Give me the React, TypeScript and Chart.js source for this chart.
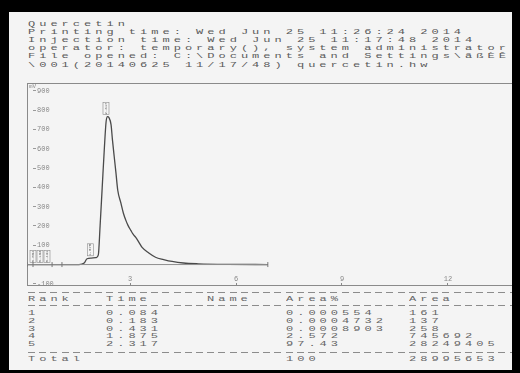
import React, { useEffect, useRef } from 'react';
import { Chart, registerables } from 'chart.js';

Chart.register(...registerables);

// ---- header text ----
const headerLines = [
  'Quercetin',
  'Printing time: Wed Jun 25 11:26:24 2014',
  'Injection time: Wed Jun 25 11:17:48 2014',
  'operator: temporary(), system administrator',
  'File opened: C:\\Documents and Settings\\ãßÈÊ',
  '\\001(20140625 11/17/48) quercetin.hw',
];

// ---- chromatogram trace (min, mV) ----
const timeMin = [0.08, 0.5, 1.0, 1.55, 1.70, 1.78, 1.90, 2.04, 2.10, 2.15, 2.21, 2.27, 2.32, 2.36, 2.40, 2.46, 2.50, 2.55, 2.60, 2.65, 2.74, 2.81, 2.88, 2.94, 3.02, 3.09, 3.16, 3.25, 3.34, 3.53, 3.72, 3.95, 4.19, 4.51, 4.93, 5.78, 6.90];
const signalMV = [0, 0, 0, 0, 8, 30, 33, 36, 50, 200, 400, 600, 740, 767, 762, 725, 646, 559, 474, 385, 318, 266, 229, 203, 177, 156, 141, 115, 89, 60, 38, 26, 16, 8, 4, 1, 0];

// integration baseline marks
const baselineTimes = [0.08, 0.25, 0.79, 1.07, 6.90];
const baselineMV = [0, 0, 0, 0, 0];

// ---- axes ----
const yTickValues = [-100, 100, 200, 300, 400, 500, 600, 700, 800, 900];
const xTickValues = [3, 6, 9, 12];
const yUnit = 'mV';

// ---- peak table ----
const tableHeaders = ['Rank', 'Time', 'Name', 'Area%', 'Area'];
const ranks = ['1', '2', '3', '4', '5'];
const peakTimes = [0.084, 0.183, 0.431, 1.875, 2.317];
const peakNames = ['', '', '', '', ''];
const areaPct = ['0.000554', '0.0004732', '0.0008903', '2.572', '97.43'];
const areas = ['161', '137', '258', '745692', '28249405'];
const totalLabel = 'Total';
const totalAreaPct = '100';
const totalArea = '28995653';
const peakApexMV = [0, 0, 0, 35, 767];

// layout helpers
const CHAR = 11.2;
const TEXT_X = 28;
const colChars = [0, 7, 16, 23, 34];
const PAPER_X = 9;
const PAPER_Y = 12;

function Mono({ x, y, text, color = '#555' }: { x: number; y: number; text: string; color?: string }) {
  return (
    <div
      style={{
        position: 'absolute',
        left: x - PAPER_X,
        top: y - PAPER_Y - 4,
        height: 8,
        lineHeight: '8px',
        whiteSpace: 'pre',
        fontFamily: '"Liberation Mono", "DejaVu Sans Mono", monospace',
        fontSize: 8,
        letterSpacing: '2.67px',
        transform: 'scaleX(1.5)',
        transformOrigin: 'left center',
        color,
      }}
    >
      {text}
    </div>
  );
}

function Dashes({ y }: { y: number }) {
  return (
    <div
      style={{
        position: 'absolute',
        left: TEXT_X - PAPER_X,
        top: y - PAPER_Y,
        width: 512 - TEXT_X,
        height: 1,
        background: 'repeating-linear-gradient(90deg, #8c8c8c 0 7px, transparent 7px 11.2px)',
      }}
    />
  );
}

const framePlugin = {
  id: 'frame',
  afterDraw(chart: any) {
    const { ctx, chartArea } = chart;
    ctx.save();
    ctx.strokeStyle = '#8a8a8a';
    ctx.lineWidth = 1;
    ctx.beginPath();
    ctx.moveTo(chartArea.left, Math.round(chartArea.top) + 0.5);
    ctx.lineTo(chartArea.right, Math.round(chartArea.top) + 0.5);
    ctx.stroke();
    ctx.fillStyle = '#888';
    ctx.font = '6px "Liberation Mono", monospace';
    ctx.textBaseline = 'middle';
    ctx.textAlign = 'left';
    ctx.fillText(yUnit, chartArea.left + 2, chartArea.top + 3.5);
    ctx.restore();
  },
};

const peakLabelPlugin = {
  id: 'peakLabels',
  afterDatasetsDraw(chart: any) {
    const { ctx, chartArea } = chart;
    const xs = chart.scales.x;
    const ys = chart.scales.y;
    let prevRight = -Infinity;
    ctx.save();
    ctx.strokeStyle = '#8a8a8a';
    ctx.lineWidth = 0.6;
    ctx.fillStyle = '#666';
    ctx.font = '4px "Liberation Mono", monospace';
    ctx.textAlign = 'center';
    ctx.textBaseline = 'middle';
    peakTimes.forEach((t, i) => {
      const w = 6;
      const h = 12;
      const cx = xs.getPixelForValue(t);
      const left = Math.max(cx - w / 2, prevRight + 1, chartArea.left + 3);
      prevRight = left + w;
      const bottom = ys.getPixelForValue(peakApexMV[i]) - 2;
      ctx.strokeRect(left, bottom - h, w, h);
      ctx.save();
      ctx.translate(left + w / 2, bottom - h / 2);
      ctx.rotate(-Math.PI / 2);
      ctx.fillText(t.toFixed(3), 0, 0);
      ctx.restore();
    });
    ctx.restore();
  },
};

export default function App() {
  const canvasRef = useRef<HTMLCanvasElement | null>(null);

  useEffect(() => {
    if (!canvasRef.current) return;
    const tickFont = { family: '"Liberation Mono", monospace', size: 7 };
    const zeroPad = (s: any) => {
      s.paddingTop = 0;
      s.paddingBottom = 0;
      s.paddingLeft = 0;
      s.paddingRight = 0;
    };
    const chart = new Chart(canvasRef.current, {
      type: 'line',
      data: {
        datasets: [
          {
            data: baselineTimes.map((t, i) => ({ x: t, y: baselineMV[i] })),
            borderColor: '#8e8e8e',
            borderWidth: 1,
            pointStyle: 'line',
            pointRotation: 90,
            pointRadius: 2.5,
            pointBorderColor: '#777',
            pointBorderWidth: 1,
            tension: 0,
          },
          {
            data: timeMin.map((t, i) => ({ x: t, y: signalMV[i] })),
            borderColor: '#4a4a4a',
            borderWidth: 1.3,
            pointRadius: 0,
            cubicInterpolationMode: 'monotone',
          },
        ],
      } as any,
      options: {
        responsive: false,
        animation: false,
        layout: { padding: { left: 7, top: 6, right: 0, bottom: 5 } },
        plugins: { legend: { display: false }, tooltip: { enabled: false } },
        scales: {
          x: {
            type: 'linear',
            min: 0.08,
            max: 13.9,
            afterFit: (s: any) => {
              s.height = 0;
              zeroPad(s);
            },
            afterBuildTicks: (s: any) => {
              s.ticks = xTickValues.map((v) => ({ value: v }));
            },
            grid: { drawOnChartArea: false, drawTicks: true, tickLength: -2, tickColor: '#888', tickWidth: 1 },
            border: { display: true, color: '#8a8a8a', width: 1 },
            ticks: { mirror: true, padding: 1.5, font: tickFont, color: '#888', maxRotation: 0, autoSkip: false },
          },
          y: {
            type: 'linear',
            min: -106,
            max: 941,
            afterFit: (s: any) => {
              s.width = 0;
              zeroPad(s);
            },
            afterBuildTicks: (s: any) => {
              s.ticks = yTickValues.map((v) => ({ value: v }));
            },
            grid: { drawOnChartArea: false, drawTicks: true, tickLength: -9, tickBorderDash: [3, 20], tickColor: '#999', tickWidth: 1 },
            border: { display: true, color: '#8a8a8a', width: 1 },
            ticks: { mirror: true, padding: 10, font: tickFont, color: '#888', autoSkip: false },
          },
        },
      } as any,
      plugins: [framePlugin, peakLabelPlugin],
    });
    return () => chart.destroy();
  }, []);

  const headerY0 = 24;
  const headerStep = 8.1;
  const rowYs = [313, 321, 328.5, 336, 344];

  return (
    <div style={{ position: 'fixed', left: 0, top: 0, width: 520, height: 373, background: '#000', overflow: 'hidden' }}>
      <div
        style={{
          position: 'absolute',
          left: PAPER_X,
          top: PAPER_Y,
          width: 503,
          height: 358,
          background: '#f4f4f4',
          overflow: 'hidden',
        }}
      >
        {headerLines.map((l, i) => (
          <Mono key={'h' + i} x={TEXT_X} y={headerY0 + i * headerStep} text={l} color="#5a5a5a" />
        ))}
        <canvas
          ref={canvasRef}
          width={500}
          height={213}
          style={{ position: 'absolute', left: 20 - PAPER_X, top: 77 - PAPER_Y, width: 500, height: 213 }}
        />
        <Dashes y={292} />
        {tableHeaders.map((h, i) => (
          <Mono key={'th' + i} x={TEXT_X + colChars[i] * CHAR} y={298.5} text={h} color="#666" />
        ))}
        <Dashes y={305} />
        {ranks.map((r, i) => {
          const cells = [r, peakTimes[i].toFixed(3), peakNames[i], areaPct[i], areas[i]];
          return cells.map((c, j) => (
            <Mono key={'r' + i + 'c' + j} x={TEXT_X + colChars[j] * CHAR} y={rowYs[i]} text={c} color="#666" />
          ));
        })}
        <Dashes y={352} />
        <Mono x={TEXT_X} y={359} text={totalLabel} color="#666" />
        <Mono x={TEXT_X + colChars[3] * CHAR} y={359} text={totalAreaPct} color="#666" />
        <Mono x={TEXT_X + colChars[4] * CHAR} y={359} text={totalArea} color="#666" />
      </div>
    </div>
  );
}
